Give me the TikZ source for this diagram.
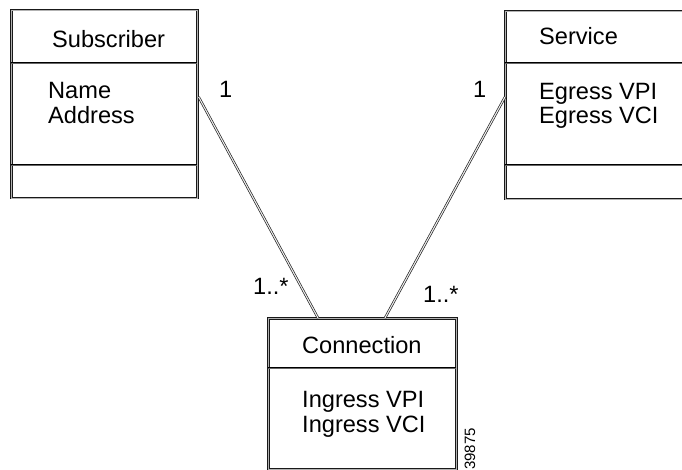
\documentclass[tikz,border=0pt]{standalone}
\usepackage{fontspec}
\setmainfont{Liberation Sans}
\usetikzlibrary{calc}
\begin{document}
\begin{tikzpicture}[x=1pt,y=-1pt,
  frame/.style={draw=black!90, line width=0.7pt, double=black!30, double distance=0.9pt},
  divider/.style={draw=black, line width=0.8pt, double=black!60, double distance=0.8pt},
  link/.style={draw=black!90, line width=0.65pt, double=black!8, double distance=1.1pt},
  classbox/.style={rectangle, frame, inner sep=0pt, anchor=north west},
  lbl/.style={inner sep=0pt, anchor=base west, font=\fontsize{23.6}{25}\selectfont},
  tag/.style={inner sep=0pt, font=\fontsize{15}{15}\selectfont}]
\useasboundingbox (0,0) rectangle (682,470);

% class boxes
\node[classbox, minimum width=186pt, minimum height=188pt] (sub) at (11,10) {};
\node[classbox, minimum width=186pt, minimum height=188pt] (svc) at (505,11) {};
\node[classbox, minimum width=188pt, minimum height=151pt] (con) at (268,318) {};

% compartment dividers
\draw[divider] (11,63) -- (197,63);
\draw[divider] (11,165) -- (197,165);
\draw[divider] (505,63) -- (691,63);
\draw[divider] (505,165) -- (691,165);
\draw[divider] (268,368) -- (456,368);

% class names and attributes
\node[lbl] (subname) at (52,48) {Subscriber};
\node[lbl] (subattr1) at (48,99) {Name};
\node[lbl] (subattr2) at (48,124) {Address};
\node[lbl] (svcname) at (539,45) {Service};
\node[lbl] (svcattr1) at (539,100) {Egress VPI};
\node[lbl] (svcattr2) at (539,124) {Egress VCI};
\node[lbl] (conname) at (302,353) {Connection};
\node[lbl] (conattr1) at (302,407) {Ingress VPI};
\node[lbl] (conattr2) at (302,432) {Ingress VCI};

% association ends
\coordinate (subend) at ($(sub.north east)+(1,87)$);
\coordinate (svcend) at ($(svc.north west)+(0,86)$);
\coordinate (conleft) at ($(con.north west)+(50,0)$);
\coordinate (conright) at ($(con.north west)+(117,0)$);
\draw[link] (subend) -- (conleft);
\draw[link] (svcend) -- (conright);

% multiplicities
\node[lbl] (m1) at (219,98) {1};
\node[lbl] (m2) at (473,98) {1};
\node[lbl] (m3) at (253,294) {1..*};
\node[lbl] (m4) at (423,302) {1..*};

% figure number
\node[tag, rotate=90, anchor=base east] (fig) at (475,428) {39875};
\end{tikzpicture}
\end{document}
